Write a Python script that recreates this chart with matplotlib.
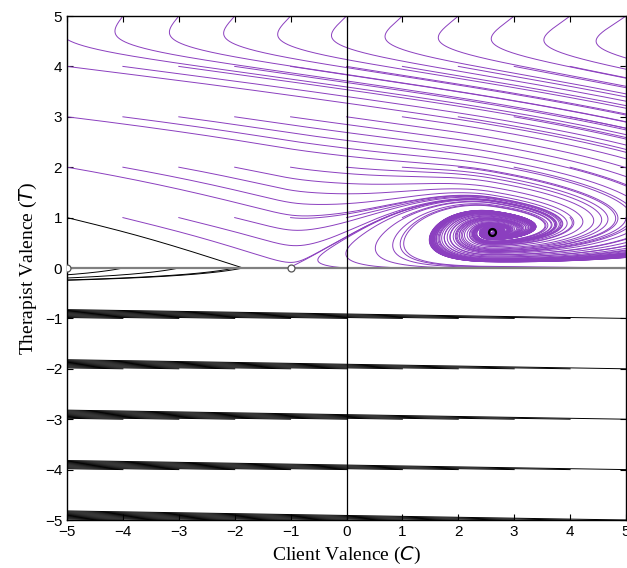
import numpy as np
import matplotlib
matplotlib.use("Agg")
import matplotlib.pyplot as plt

# seed grid of the streamlines (client C, therapist T)
seed_c = [-5, -4, -3, -2, -1, 0, 1, 2, 3, 4, 5]
seed_t = [-5, -4, -3, -2, -1, 0, 1, 2, 3, 4, 5]

# steady states marked in the plot
open_c = [-5, -1]
open_t = [0, 0]
stable_c = [2.6]
stable_t = [0.72]

ticks = [-5, -4, -3, -2, -1, 0, 1, 2, 3, 4, 5]

# model constants, upper half (T >= 0)
beta, a1, a2, t_k, l_p = 0.4, 2.5, 3.47, 1.2, 1.5
kap, lam, xi, t_top = 8.3, 4.3, 0.05, 4.6
mu, lam2 = 3.6, 6.0
F, t_w = 2.2, 1.5
dl, dl2 = 1.2, 2.0          # left of the focus
dr, dr2 = 4.5, 5.0          # right of the focus
d0, l_d = 1.4, 1.0
k_left, t_a, c_sw, w_sw = 0.36, 1.6, -1.0, 0.3
lift = 0.03
c_star, t_star = stable_c[0], stable_t[0]
# lower half (T < 0)
v_lo, eps, eta, h_lo = 1.0, 0.018, 0.25, 0.15


def p_of(T):
    pk = beta * (-1 + a1 * t_k + a2 * t_k**2)
    gk = beta * (a1 + 2 * a2 * t_k)
    low = beta * (-1 + a1 * T + a2 * T**2)
    high = pk + gk * l_p * (1 - np.exp(-(T - t_k) / l_p))
    return np.where(T <= t_k, low, high)


def field(C, T):
    N = kap * np.exp(lam * (T - t_top) + xi * C)
    dc_up = -beta * C + p_of(T) - N
    sig = 0.5 * (1 - np.tanh((C - c_sw) / w_sw))
    x = np.maximum(T - t_star, 0) / l_d
    D = d0 * x**2 / (1 + x**2)
    z = c_star - C
    f = np.where(z >= 0,
                 F * z / dl * np.exp(-(z / dl2)**2),
                 F * z / dr * np.exp(-(z / dr2)**2))
    dt_up = ((1 - sig) * (T * f * np.exp(-(T / t_w)**2) + lift * np.exp(-T / 0.2))
             - D
             - sig * k_left * np.maximum(dc_up, 0) * np.exp(-(T / t_a)**2)
             - mu * np.exp(lam2 * (T - t_top)))
    dc_lo = -v_lo * np.ones_like(C)
    dt_lo = eps - eta * np.exp(np.minimum(T, 0) / h_lo)
    up = T >= 0
    dc = np.where(up, dc_up, dc_lo)
    dt = np.where(up, dt_up, dt_lo)
    sp = np.hypot(dc, dt) + 1e-12
    return dc / sp, dt / sp


gc, gt = np.meshgrid(seed_c, seed_t)
P = np.column_stack([gc.ravel(), gt.ravel()]).astype(float)
n = len(P)
ds = 0.01
nsteps = 9000
hist = np.full((nsteps + 1, n, 2), np.nan)
hist[0] = P
alive = np.ones(n, bool)
for k in range(nsteps):
    C, T = P[:, 0], P[:, 1]
    k1 = np.array(field(C, T)).T
    k2 = np.array(field(C + ds / 2 * k1[:, 0], T + ds / 2 * k1[:, 1])).T
    k3 = np.array(field(C + ds / 2 * k2[:, 0], T + ds / 2 * k2[:, 1])).T
    k4 = np.array(field(C + ds * k3[:, 0], T + ds * k3[:, 1])).T
    newP = P + ds / 6 * (k1 + 2 * k2 + 2 * k3 + k4)
    step_ok = alive.copy()
    P = np.where(alive[:, None], newP, P)
    out = (P[:, 0] < -8) | (P[:, 0] > 12) | (np.abs(P[:, 1]) > 7)
    near = np.hypot(P[:, 0] - c_star, P[:, 1] - t_star) < 0.03
    hist[k + 1][step_ok] = P[step_ok]
    alive &= ~(out | near)
    if not alive.any():
        break

fig = plt.figure(figsize=(6.27, 5.68), dpi=100)
ax = fig.add_axes([67 / 627, 48 / 568, 559 / 627, 504 / 568])

for i in range(n):
    tr = hist[:, i, :]
    tr = tr[~np.isnan(tr[:, 0])]
    col = '#8b3fbf' if tr[-1, 1] > 0 else 'black'
    ax.plot(tr[:, 0], tr[:, 1], color=col, lw=0.7)

ax.axhline(0, color='#808080', lw=1.6, zorder=3)
ax.axvline(0, color='black', lw=0.9, zorder=3)
ax.plot(open_c, open_t, 'o', ms=5, mfc='white', mec='#555555', mew=0.9, zorder=5)
ax.plot(stable_c, stable_t, 'o', ms=5, mfc='none', mec='black', mew=1.6, zorder=5)

ax.set_xlim(-5, 5)
ax.set_ylim(-5, 5)
ax.set_xticks(ticks)
ax.set_yticks(ticks)
ax.tick_params(direction='in', top=True, right=True, length=4, width=0.8,
               labelsize=11)
for lab in ax.get_xticklabels() + ax.get_yticklabels():
    lab.set_family('Liberation Sans')
for sp in ax.spines.values():
    sp.set_linewidth(1.0)

plt.rcParams['mathtext.fontset'] = 'custom'
plt.rcParams['mathtext.it'] = 'Liberation Serif:italic'
plt.rcParams['mathtext.rm'] = 'Liberation Serif'
ax.set_xlabel('Client Valence ($C$)', family='Liberation Serif', fontsize=14, labelpad=4)
ax.set_ylabel('Therapist Valence ($T$)', family='Liberation Serif', fontsize=14, labelpad=4)

fig.savefig('out.png', dpi=100)
